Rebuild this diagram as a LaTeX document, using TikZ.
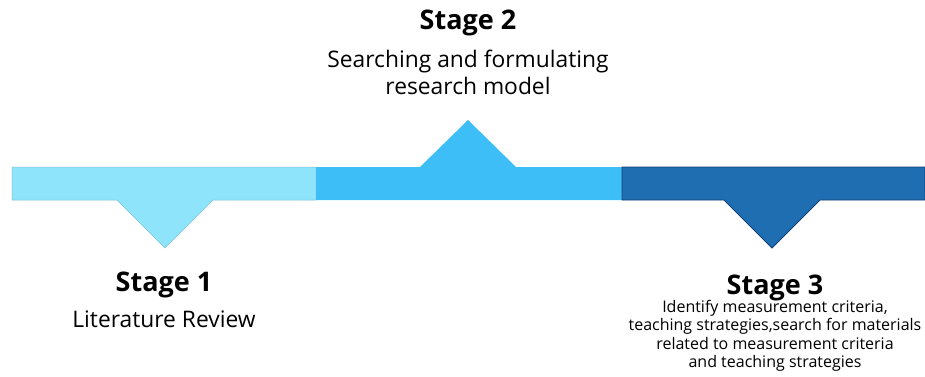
\documentclass[tikz,border=0pt]{standalone}
\usepackage{fontspec}
\setmainfont{Open Sans}
\usetikzlibrary{positioning}

\definecolor{paleblue}{HTML}{8EE4FA}
\definecolor{skyblue}{HTML}{3EBEF6}
\definecolor{deepblue}{HTML}{1F6EB2}
\definecolor{navyline}{HTML}{0E3F78}

\begin{document}
\begin{tikzpicture}[x=1pt,y=1pt,on grid,
    title/.style={font=\bfseries\fontsize{27}{31}\selectfont},
    desc/.style={align=center,font=\fontsize{22.8}{27}\selectfont},
    small/.style={align=center,font=\fontsize{16}{18.5}\selectfont}]
  \useasboundingbox (0,0) rectangle (925,376);
  % timeline bar, one piece per stage
  \fill[paleblue,draw=paleblue!85!black,line width=0.5pt]
    (12,209) -- (316,209) -- (316,176) -- (213,176) -- (165,128)
    -- (117,176) -- (12,176) -- cycle;
  \fill[skyblue]
    (316,209) -- (420,209) -- (468,256) -- (516,209) -- (622,209)
    -- (622,176) -- (316,176) -- cycle;
  \fill[deepblue,draw=navyline,line width=0.8pt]
    (622,209) -- (925,209) -- (925,176) -- (820,176) -- (772,128)
    -- (724,176) -- (622,176) -- cycle;
  % labels
  \node[title] (s1) at (164,91) {Stage 1};
  \node[desc] (s1d) [below=34pt of s1] {Literature Review};
  \node[title] (s2) at (468,353) {Stage 2};
  \node[desc] (s2d) [below=49pt of s2] {Searching and formulating\\research model};
  \node[title] (s3) at (775,88) {Stage 3};
  \node[small] (s3d) [below=48pt of s3] {Identify measurement criteria,\\teaching strategies,search for materials\\related to measurement criteria\\and teaching strategies};
\end{tikzpicture}
\end{document}
